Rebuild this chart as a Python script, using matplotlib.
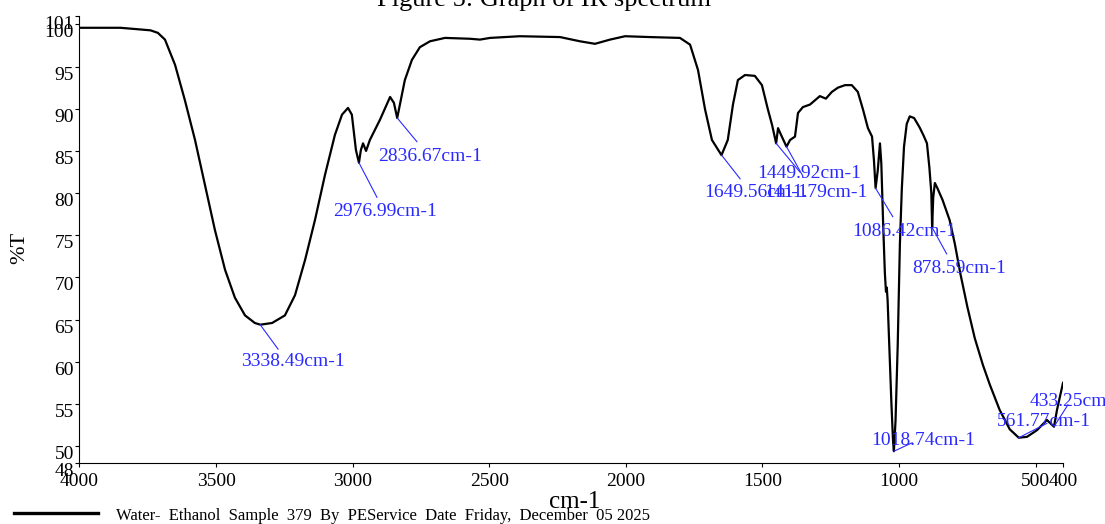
import numpy as np
import matplotlib
matplotlib.use("Agg")
import matplotlib.pyplot as plt
from matplotlib.lines import Line2D

plt.rcParams['font.family'] = ['Liberation Serif', 'DejaVu Serif']

# IR spectrum (wavenumber in cm-1, transmittance in %T)
wavenumber = [4000, 3850, 3740, 3713, 3687, 3650, 3614, 3577, 3541, 3504,
              3467, 3431, 3394, 3358, 3338, 3295, 3248, 3211, 3174, 3138,
              3101, 3065, 3039, 3017, 3003, 2988, 2977, 2970, 2962, 2951,
              2937, 2900, 2863, 2849, 2837, 2827, 2809, 2783, 2754, 2717,
              2662, 2571, 2534, 2497, 2388, 2241, 2168, 2113, 2058, 2003,
              1912, 1802, 1765, 1736, 1710, 1685, 1650, 1627, 1608, 1590,
              1564, 1528, 1502, 1480, 1465, 1450, 1443, 1432, 1412, 1399,
              1381, 1370, 1352, 1326, 1308, 1290, 1268, 1246, 1224, 1198,
              1173, 1151, 1132, 1114, 1099, 1092, 1086, 1078, 1070, 1065,
              1058, 1052, 1048, 1045, 1042, 1036, 1028, 1022, 1019, 1013,
              1005, 997, 990, 982, 972, 961, 945, 925, 910, 898,
              889, 882, 879, 875, 869, 860, 841, 815, 796, 776,
              750, 723, 693, 668, 632, 595, 562, 532, 495, 459,
              433, 422, 400]
transmittance = [99.6, 99.6, 99.3, 99.0, 98.2, 95.2, 91.0, 86.3, 81.0, 75.6,
                 70.9, 67.6, 65.5, 64.6, 64.4, 64.6, 65.5, 67.9, 72.1, 76.8,
                 82.2, 86.9, 89.3, 90.1, 89.3, 85.1, 83.6, 85.1, 85.9, 85.0,
                 86.3, 88.7, 91.4, 90.7, 88.9, 90.5, 93.4, 95.8, 97.3, 98.0,
                 98.4, 98.3, 98.2, 98.4, 98.6, 98.5, 98.0, 97.7, 98.2, 98.6,
                 98.5, 98.4, 97.6, 94.6, 89.9, 86.3, 84.5, 86.3, 90.5, 93.4,
                 94.0, 93.9, 92.8, 89.9, 88.1, 85.9, 87.7, 86.9, 85.5, 86.3,
                 86.7, 89.5, 90.2, 90.5, 91.0, 91.5, 91.2, 92.0, 92.5, 92.8,
                 92.8, 92.0, 89.9, 87.7, 86.7, 83.9, 80.6, 82.7, 85.9, 83.5,
                 76.0, 70.5, 68.3, 68.8, 67.3, 62.0, 55.0, 50.5, 49.4, 53.0,
                 62.0, 74.0, 80.5, 85.5, 88.2, 89.1, 88.9, 87.8, 86.8, 85.9,
                 83.0, 80.0, 75.9, 79.5, 81.2, 80.6, 79.2, 76.8, 74.0, 70.5,
                 66.5, 62.8, 59.6, 57.3, 54.3, 52.0, 51.0, 51.1, 51.9, 53.1,
                 52.3, 54.3, 57.5]

# labelled peaks
peak_labels = ['3338.49cm-1', '2976.99cm-1', '2836.67cm-1', '1649.56cm-1',
               '1449.92cm-1', '1411.79cm-1', '1086.42cm-1', '1018.74cm-1',
               '878.59cm-1', '561.77cm-1', '433.25cm-1']
peak_wn = [3338.49, 2976.99, 2836.67, 1649.56, 1449.92, 1411.79, 1086.42,
           1018.74, 878.59, 561.77, 433.25]
peak_T = [64.4, 83.6, 88.9, 84.5, 85.9, 85.5, 80.6, 49.4, 75.9, 51.0, 52.3]

# where each leader line ends and where its label sits
leader_end = [(3273, 61.5), (2911, 79.5), (2765, 86.1), (1582, 81.7),
              (1363, 82.5), (1352, 82.0), (1023, 77.2), (952, 50.4),
              (826, 72.8), (459, 52.7), (382, 54.9)]
label_pos = [(3220, 60.0), (2880, 77.8), (2717, 84.3), (1524, 80.05),
             (1328, 82.3), (1304, 80.05), (980, 75.5), (911, 50.7),
             (781, 71.1), (471, 52.9), (521, 55.3)]

xticks = [4000, 3500, 3000, 2500, 2000, 1500, 1000, 500, 400]
yticks = [48, 50, 55, 60, 65, 70, 75, 80, 85, 90, 95, 100, 101]

blue = '#2a2aff'

fig = plt.figure(figsize=(11.05, 5.24), dpi=100)
ax = fig.add_axes([0.0719, 0.1164, 0.962 - 0.0719, 0.9695 - 0.1164])

ax.plot(wavenumber, transmittance, color='black', lw=1.6,
        solid_joinstyle='round')

for lab, wn, t, end, pos in zip(peak_labels, peak_wn, peak_T, leader_end, label_pos):
    ax.plot([wn, end[0]], [t, end[1]], color=blue, lw=0.8, clip_on=False)
    ha = 'left' if lab.startswith('433') else 'center'
    ax.text(pos[0], pos[1], lab, color=blue, fontsize=14, ha=ha, va='center',
            clip_on=False)

ax.set_xlim(4000, 400)
ax.set_ylim(48, 101)
ax.set_xticks(xticks)
ax.set_xticklabels([str(v) for v in xticks])
ax.set_yticks(yticks)
ax.set_yticklabels([str(v) for v in yticks])
for lbl in ax.get_yticklabels():
    lbl.set_verticalalignment('top')
ax.tick_params(labelsize=14, length=3, width=0.8, direction='out')
ax.tick_params(axis='y', pad=1)
ax.tick_params(axis='x', pad=4)
ax.spines['top'].set_visible(False)
ax.spines['right'].set_visible(False)

fig.text(575 / 1105, 1 - 502 / 524, 'cm-1', fontsize=18, ha='center', va='center')
fig.text(20 / 1105, 1 - 248 / 524, '%T', fontsize=16, rotation=90,
         ha='center', va='center')
fig.text(544 / 1105, 1 - 6 / 524, 'Figure 5: Graph of IR spectrum', fontsize=19,
         ha='center', va='baseline')

# legend strip at the bottom
fig.add_artist(Line2D([14 / 1105, 98 / 1105], [1 - 513 / 524, 1 - 513 / 524],
                      color='black', lw=2.4, transform=fig.transFigure))
fig.text(116 / 1105, 1 - 516 / 524,
         'Water-  Ethanol  Sample  379  By  PEService  Date  Friday,  December  05 2025',
         fontsize=12, ha='left', va='center')

fig.savefig('out.png', dpi=100)
